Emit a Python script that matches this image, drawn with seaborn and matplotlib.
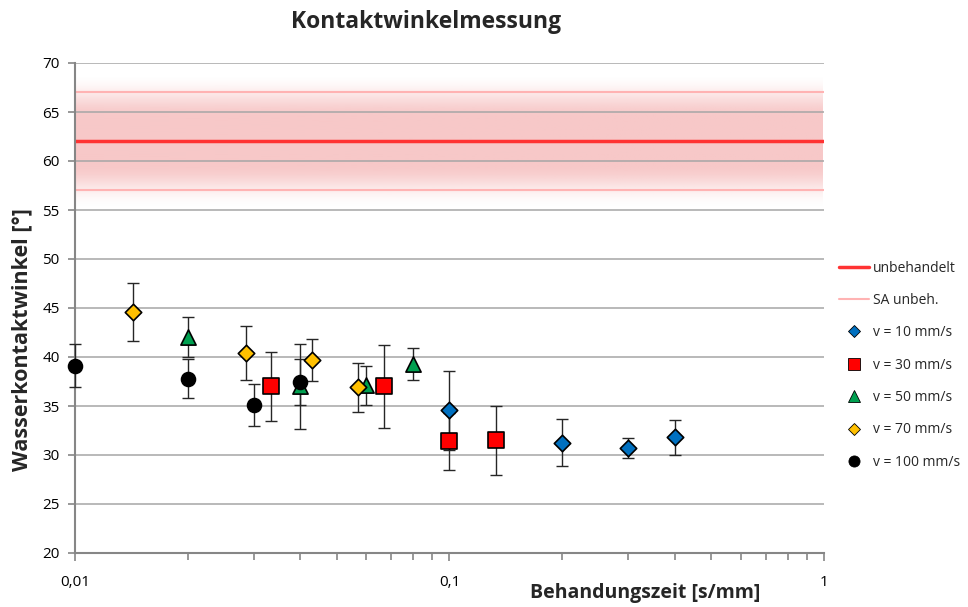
import numpy as np
import pandas as pd
import matplotlib
matplotlib.use("Agg")
import matplotlib.pyplot as plt
from matplotlib.lines import Line2D
from matplotlib.ticker import FixedLocator, LogLocator, NullFormatter
import seaborn as sns

# Behandlungszeit [s/mm], Kontaktwinkel [°] und Standardabweichung je Vorschub
x_10 = [0.1, 0.2, 0.3, 0.4]
y_10 = [34.55, 31.25, 30.7, 31.8]
e_10 = [4.0, 2.4, 1.0, 1.75]

x_30 = [0.0333, 0.0667, 0.1, 0.1333]
y_30 = [37.0, 37.0, 31.4, 31.5]
e_30 = [3.55, 4.2, 2.9, 3.55]

x_50 = [0.02, 0.04, 0.06, 0.08]
y_50 = [42.0, 37.0, 37.1, 39.3]
e_50 = [2.05, 4.3, 2.0, 1.65]

x_70 = [0.0143, 0.0286, 0.0429, 0.0571]
y_70 = [44.55, 40.4, 39.7, 36.9]
e_70 = [2.95, 2.75, 2.1, 2.5]

x_100 = [0.01, 0.02, 0.03, 0.04]
y_100 = [39.1, 37.8, 35.1, 37.45]
e_100 = [2.2, 2.0, 2.1, 2.3]

# Referenz: unbehandelte Probe
ref_mean = 62.0
ref_sd = 5.0

series_labels = ["v = 10 mm/s", "v = 30 mm/s", "v = 50 mm/s", "v = 70 mm/s", "v = 100 mm/s"]
series_colors = ["#0070C0", "#FF0000", "#00A050", "#FFC000", "#000000"]
series_markers = ["D", "s", "^", "D", "o"]
series_sizes = [70, 125, 120, 70, 100]

xs = [x_10, x_30, x_50, x_70, x_100]
ys = [y_10, y_30, y_50, y_70, y_100]
es = [e_10, e_30, e_50, e_70, e_100]

frames = []
for lab, x, y, e in zip(series_labels, xs, ys, es):
    frames.append(pd.DataFrame({"zeit": x, "winkel": y, "sd": e, "serie": lab}))
df = pd.concat(frames, ignore_index=True)

sns.set_theme(style="white")
plt.rcParams["font.family"] = ["Open Sans", "DejaVu Sans"]

fig = plt.figure(figsize=(9.68, 6.07), dpi=100)
ax = fig.add_axes([75 / 968, 1 - 553 / 607, (824 - 75) / 968, (553 - 63) / 607])

ax.set_xscale("log")
ax.set_xlim(0.01, 1)
ax.set_ylim(20, 70)

# soft gradient band around the reference value
yy = np.linspace(ref_mean - 8, ref_mean + 8, 400)
d = np.abs(yy - ref_mean)
t = np.clip((d - 2.3) / 4.5, 0, 1)
alpha = 0.5 * (1 + np.cos(np.pi * t)) * 0.85
rgba = np.zeros((len(yy), 2, 4))
rgba[..., 0] = 246 / 255
rgba[..., 1] = 190 / 255
rgba[..., 2] = 190 / 255
rgba[..., 3] = alpha[:, None]
ax.imshow(rgba, extent=[0.01, 1, yy[0], yy[-1]], origin="lower",
          aspect="auto", interpolation="bilinear", zorder=0.5)
ax.set_xlim(0.01, 1)
ax.set_ylim(20, 70)

# grid
for gy in range(25, 71, 5):
    ax.axhline(gy, color="#A6A6A6", lw=1.1, zorder=1)

ax.axhline(ref_mean, color="#FF3333", lw=2.5, zorder=2)
ax.axhline(ref_mean - ref_sd, color="#FFB3B3", lw=1.5, zorder=2)
ax.axhline(ref_mean + ref_sd, color="#FFB3B3", lw=1.5, zorder=2)

# error bars
for x, y, e in zip(xs, ys, es):
    ax.errorbar(x, y, yerr=e, fmt="none", ecolor="#262626", elinewidth=1.0,
                capsize=4, capthick=1.0, zorder=3, clip_on=False)

# markers
for i, (lab, col, mk, sz) in enumerate(zip(series_labels, series_colors, series_markers, series_sizes)):
    sub = df[df["serie"] == lab]
    sns.scatterplot(data=sub, x="zeit", y="winkel", ax=ax, color=col, marker=mk,
                    s=sz, edgecolor="black", linewidth=1.2, zorder=4 + i,
                    clip_on=False, legend=False)

ax.set_xlim(0.01, 1)
ax.set_ylim(20, 70)

# axes styling
for side in ["top", "right"]:
    ax.spines[side].set_visible(False)
for side in ["left", "bottom"]:
    ax.spines[side].set_color("#868686")
    ax.spines[side].set_linewidth(1.5)

ax.set_yticks(range(20, 71, 5))
ax.set_yticklabels([str(v) for v in range(20, 71, 5)])
ax.xaxis.set_major_locator(FixedLocator([0.01, 0.1, 1]))
ax.set_xticklabels(["0,01", "0,1", "1"])
ax.xaxis.set_minor_locator(LogLocator(base=10, subs=np.arange(2, 10)))
ax.xaxis.set_minor_formatter(NullFormatter())
ax.tick_params(axis="both", which="both", direction="out", color="#868686",
               labelsize=11, labelcolor="black")
ax.tick_params(axis="y", which="major", length=5, width=1.2, pad=6, left=True)
ax.tick_params(axis="x", which="major", length=6, width=1.2, pad=10, bottom=True)
ax.tick_params(axis="x", which="minor", length=5, width=1.2, bottom=True)
ax.set_xlabel("")
ax.set_ylabel("")
ax.grid(False)

fig.text(426 / 968, 1 - 22 / 607, "Kontaktwinkelmessung", ha="center", va="center",
         fontsize=16.5, fontweight="bold")
fig.text(22 / 968, 1 - 340 / 607, "Wasserkontaktwinkel [°]", ha="center", va="center",
         rotation=90, fontsize=15.5, fontweight="bold")
fig.text(645 / 968, 1 - 593 / 607, "Behandungszeit [s/mm]", ha="center", va="center",
         fontsize=14, fontweight="bold")

handles = [
    Line2D([], [], color="#FF3333", lw=2.5, label="unbehandelt"),
    Line2D([], [], color="#FFB3B3", lw=1.5, label="SA unbeh."),
]
leg_sizes = [6, 8, 8, 6, 8]
for lab, col, mk, ms in zip(series_labels, series_colors, series_markers, leg_sizes):
    handles.append(Line2D([], [], ls="none", marker=mk, markersize=ms, color=col,
                          markeredgecolor="black", markeredgewidth=0.6, label=lab))
fig.legend(handles=handles, loc="upper left", bbox_to_anchor=(833 / 968, 1 - 255 / 607),
           frameon=False, fontsize=10, labelspacing=1.25, handlelength=2.2,
           handletextpad=0.3, borderaxespad=0)

fig.savefig("out.png", dpi=100)
